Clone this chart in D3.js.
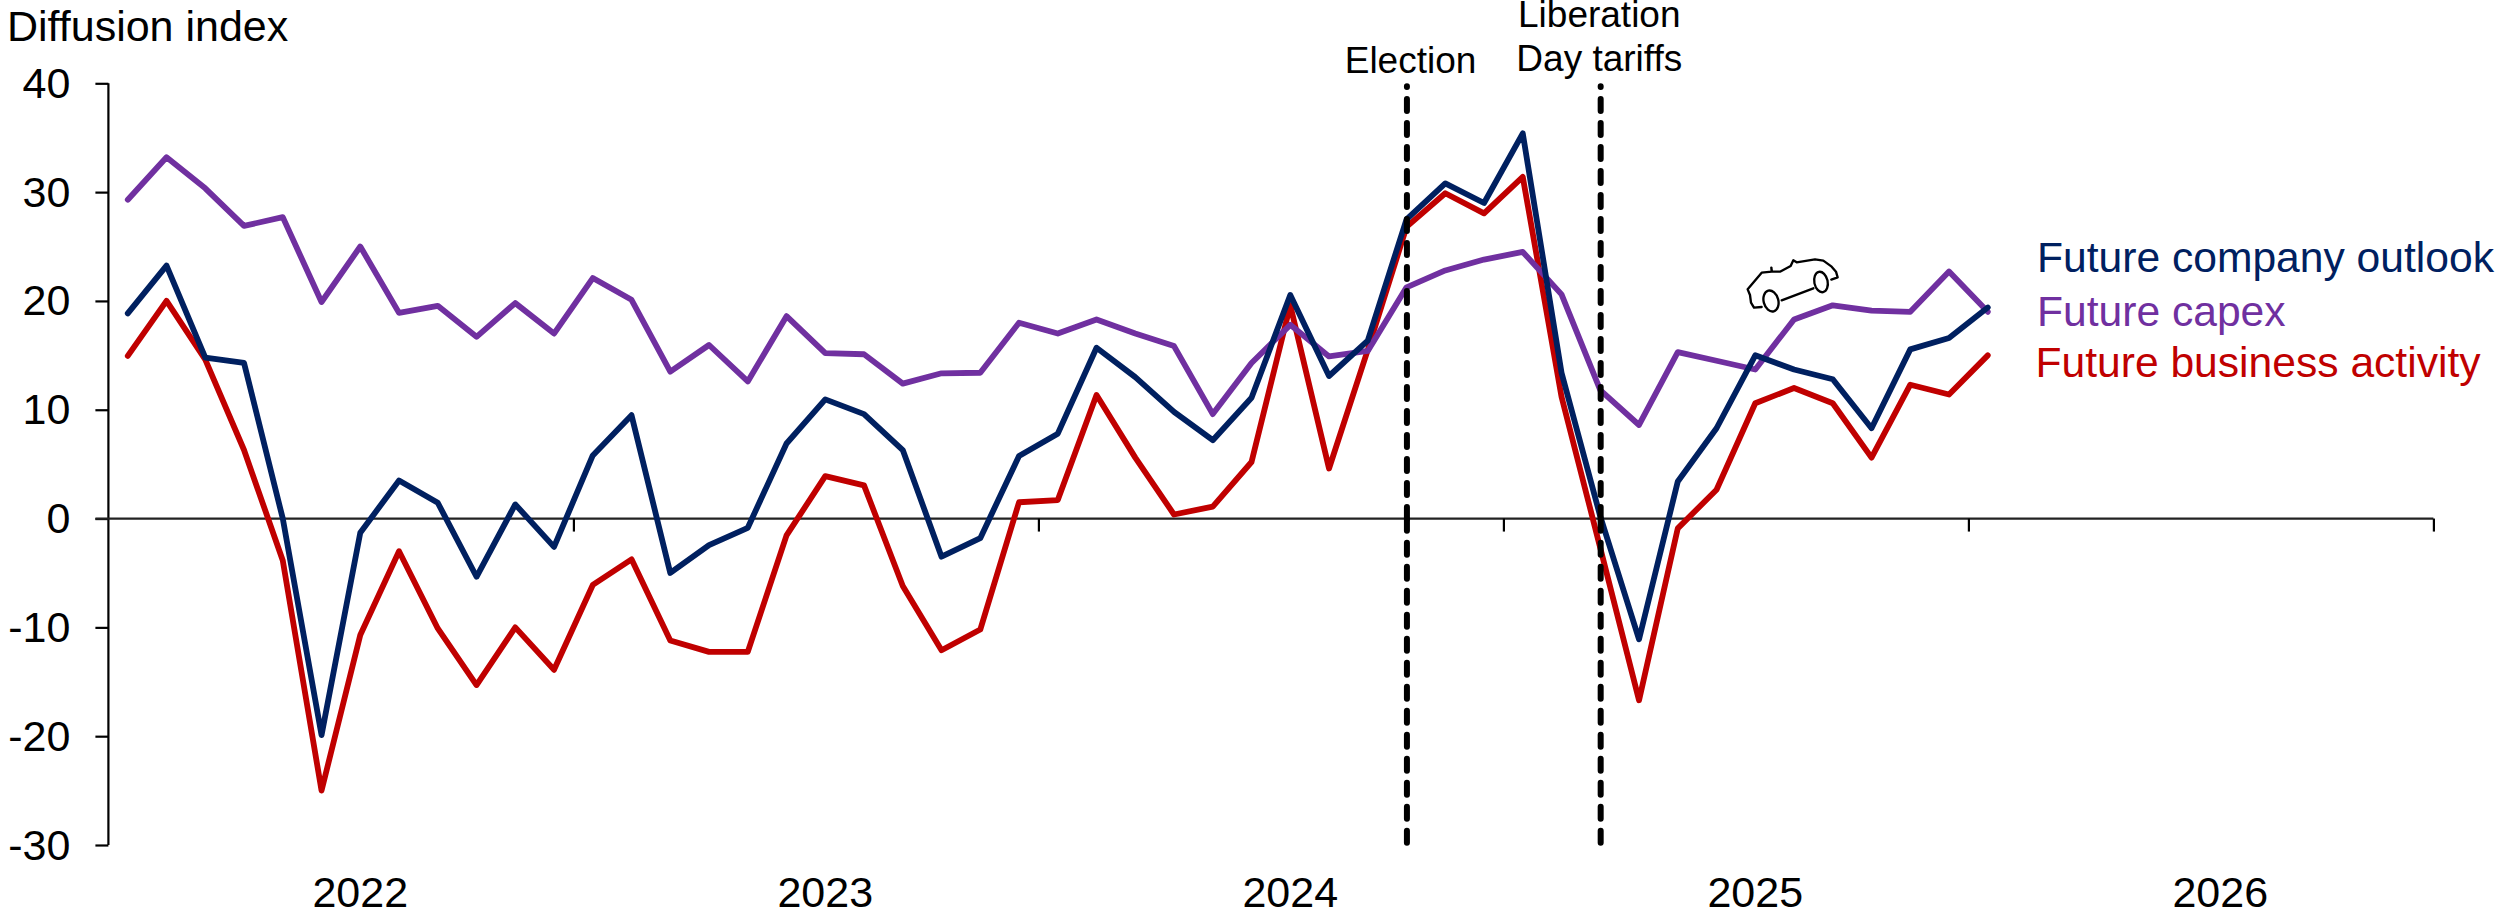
<!DOCTYPE html>
<html>
<head>
<meta charset="utf-8">
<script src="https://cdn.jsdelivr.net/npm/d3@7"></script>
<style>
html,body{margin:0;padding:0;background:#fff;}
svg{display:block;}
text{font-family:"Liberation Sans",Arial,sans-serif;}
</style>
</head>
<body>
<div id="chart"></div>
<script>
const yearLabels = ["2022","2023","2024","2025","2026"];
const yTicks = [40,30,20,10,0,-10,-20,-30];
const futureCapex = [29.3,33.2,30.35,26.9,27.7,19.9,25.0,18.9,19.55,16.7,19.8,17.0,22.1,20.1,13.5,15.95,12.6,18.6,15.2,15.1,12.4,13.35,13.4,18.0,17.0,18.3,17.0,15.85,9.6,14.3,17.8,14.9,15.4,21.25,22.8,23.8,24.5,20.6,11.8,8.6,15.3,14.5,13.7,18.3,19.6,19.1,19.0,22.7,19.0];
const futureOutlook = [18.85,23.25,14.8,14.3,0.0,-19.9,-1.3,3.5,1.45,-5.35,1.3,-2.6,5.8,9.5,-5.0,-2.45,-0.85,6.9,10.95,9.6,6.3,-3.5,-1.8,5.75,7.8,15.7,13.0,9.8,7.2,11.1,20.55,13.1,16.35,27.5,30.8,29.0,35.4,13.4,0.2,-11.1,3.4,8.3,15.0,13.7,12.8,8.3,15.55,16.6,19.4];
const futureActivity = [14.95,20.0,14.6,6.3,-3.85,-25.0,-10.7,-3.0,-10.1,-15.3,-10.0,-13.9,-6.1,-3.75,-11.2,-12.25,-12.25,-1.55,3.9,3.05,-6.2,-12.1,-10.2,1.5,1.7,11.35,5.6,0.37,1.1,5.2,19.6,4.6,15.5,26.8,29.9,28.05,31.4,11.2,-2.7,-16.7,-0.9,2.65,10.6,12.0,10.6,5.6,12.3,11.4,15.0];
const seriesNames = ["Future company outlook","Future capex","Future business activity"];
const eventNames = [["Election"],["Liberation","Day tariffs"]];
const eventIndex = [33,38];
const monthCount = 60, firstJanuary = 6;

const W = 2514, H = 913;
const svg = d3.select("#chart").append("svg").attr("width",W).attr("height",H);

const edge = d3.scaleLinear().domain([0,monthCount]).range([108.4,2433.4]);
const x = i => edge(i + 0.5);
const y = d3.scaleLinear().domain([-30,40]).range([845,83.3]);

// axes
const yAxis = svg.append("g").attr("transform",`translate(${edge(0)},0)`)
  .call(d3.axisLeft(y).tickValues(yTicks).tickSize(13).tickPadding(0).tickFormat(String));
yAxis.select(".domain").attr("d",`M0,${y(40)}V${y(-30)}`).attr("stroke","#000").attr("stroke-width",2.2);
yAxis.selectAll(".tick line").attr("stroke","#000").attr("stroke-width",2.2);
yAxis.selectAll(".tick text").attr("x",-38).attr("dy",null).attr("y",14)
  .attr("font-size",43).attr("font-family","Liberation Sans").attr("fill","#000").attr("text-anchor","end");

const xAxis = svg.append("g").attr("transform",`translate(0,${y(0)})`)
  .call(d3.axisBottom(edge).tickValues(d3.range(0,monthCount+1,12)).tickSize(13).tickFormat(""));
xAxis.select(".domain").attr("d",`M${edge(0)-13},0H${edge(monthCount)}`).attr("stroke","#222").attr("stroke-width",2.2);
xAxis.selectAll(".tick line").attr("stroke","#000").attr("stroke-width",2.2);
xAxis.selectAll(".tick").filter(d=>d===0).remove();

svg.append("g").selectAll("text").data(yearLabels).join("text")
  .attr("x",(d,i)=>x(firstJanuary+12*i)).attr("y",907).attr("text-anchor","middle")
  .attr("font-size",43).attr("fill","#000").text(d=>d);

svg.append("text").attr("x",7).attr("y",41).attr("font-size",43).attr("fill","#000").text("Diffusion index");

// lines
const line = d3.line().x((d,i)=>x(i)).y(d=>y(d)).curve(d3.curveLinear);
const drawn = [
  {v:futureActivity,c:"#c00000"},
  {v:futureCapex,c:"#7030a0"},
  {v:futureOutlook,c:"#002060"}
];
svg.append("g").selectAll("path").data(drawn).join("path")
  .attr("d",d=>line(d.v)).attr("fill","none").attr("stroke",d=>d.c)
  .attr("stroke-width",5.8).attr("stroke-linejoin","round").attr("stroke-linecap","round");

// event lines: each is two dashed pieces, below and above the zero line, dashes running upward
const capHalf = 3;
const eventPieces = eventIndex.flatMap(i => [
  {i, from:y(-30)+0.7-capHalf, to:y(0)+1},
  {i, from:y(0)+0.4, to:y(40)+capHalf}
]);
svg.append("g").selectAll("line").data(eventPieces).join("line")
  .attr("x1",d=>x(d.i)+0.4).attr("x2",d=>x(d.i)+0.4).attr("y1",d=>d.from).attr("y2",d=>d.to)
  .attr("stroke","#000").attr("stroke-width",6).attr("stroke-linecap","round")
  .attr("stroke-dasharray","12 12");

// event labels
const eventLabelY = [[73],[27,71]];
const eventLabelDx = [4,-1];
eventNames.forEach((lines,k)=>{
  lines.forEach((t,j)=>{
    svg.append("text").attr("x",x(eventIndex[k])+eventLabelDx[k]).attr("y",eventLabelY[k][j])
      .attr("text-anchor","middle").attr("font-size",37).attr("fill","#000").text(t);
  });
});

// legend
const legendX = [2037,2037,2035.5], legendY = [272,326,377], legendC = ["#002060","#7030a0","#c00000"];
svg.append("g").selectAll("text").data(seriesNames).join("text")
  .attr("x",(d,i)=>legendX[i]).attr("y",(d,i)=>legendY[i]).attr("font-size",42.6)
  .attr("fill",(d,i)=>legendC[i]).text(d=>d);

// car icon
const car = svg.append("g").attr("transform","translate(1700,230) scale(0.3333)")
  .attr("fill","none").attr("stroke","#000").attr("stroke-width",7).attr("stroke-linejoin","round").attr("stroke-linecap","round");
car.append("path").attr("d","M185,231 L162,233 L153,218 L150,195 L143,178 L185,128 L215,125 L214,113 L216,125 L240,125 L272,108 L280,91 L290,97 L345,88 L370,92 L395,110 L408,125 L413,142 L394,149");
car.append("path").attr("d","M245,211 L340,175");
car.append("ellipse").attr("cx",213).attr("cy",213).attr("rx",22).attr("ry",32).attr("transform","rotate(-15 213 213)");
car.append("ellipse").attr("cx",363).attr("cy",156).attr("rx",20).attr("ry",31).attr("transform","rotate(-12 363 156)");
</script>
</body>
</html>
